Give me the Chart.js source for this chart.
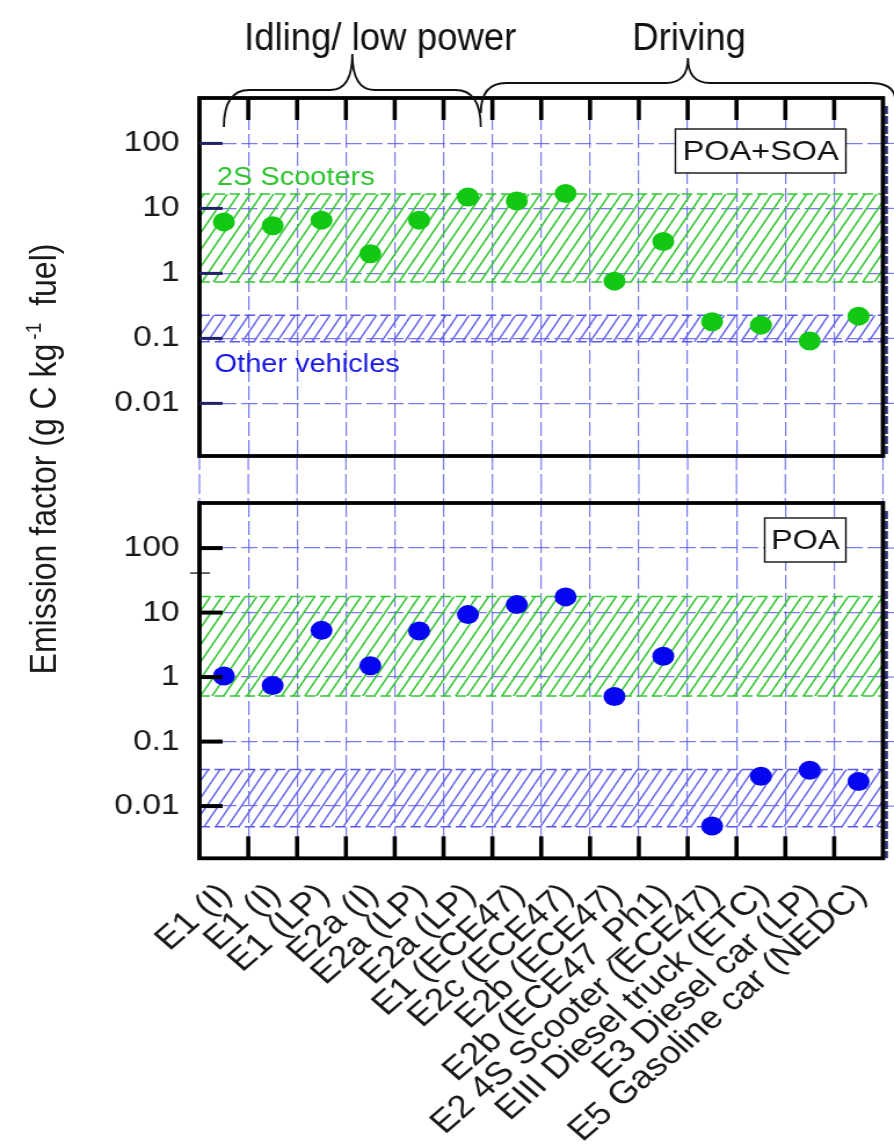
<!DOCTYPE html>
<html>
<head>
<meta charset="utf-8">
<script src="https://cdn.jsdelivr.net/npm/chart.js@4.4.1/dist/chart.umd.min.js"></script>
<style>
  html, body { margin: 0; padding: 0; background: #fff; overflow: hidden; }
  #page { position: absolute; left: 0; top: 0; width: 771px; height: 1146px; transform: scaleX(1.1595); transform-origin: 0 0; }
  #page canvas { position: absolute; left: 0; }
  #yTitle {
    position: absolute; left: -211px; top: 439px; width: 500px; height: 40px; line-height: 40px;
    text-align: center; white-space: nowrap; color: #1a1a1a;
    font: 32px "Liberation Sans", Arial, sans-serif; transform: rotate(-90deg);
  }
  #yTitle sup { font-size: 19px; position: relative; top: -13px; vertical-align: baseline; margin: 0 8px 0 4px; }
</style>
</head>
<body>
<div id="page">
  <canvas id="topChart" width="771" height="480" style="top:0"></canvas>
  <canvas id="bottomChart" width="771" height="666" style="top:480px"></canvas>
  <div id="yTitle">Emission factor (g C kg<sup>-1</sup> fuel)</div>
</div>
<script>
// test vehicles / cycles
const vehicles = [
  'E1 (I)', 'E1 (I)', 'E1 (LP)', 'E2a (I)', 'E2a (LP)', 'E2a (LP)', 'E1 (ECE47)',
  'E2c (ECE47)', 'E2b (ECE47)', 'E2b (ECE47_Ph1)', 'E2 4S Scooter (ECE47)',
  'EIII Diesel truck (ETC)', 'E3 Diesel car (LP)', 'E5 Gasoline car (NEDC)'
];

// emission factors, g C per kg fuel
const poaSoa = [6.2, 5.4, 6.6, 2.0, 6.6, 15, 13, 17, 0.76, 3.1, 0.18, 0.16, 0.091, 0.22];
const poa = [1.04, 0.74, 5.3, 1.5, 5.2, 9.3, 13.3, 17.5, 0.50, 2.1, 0.0049, 0.029, 0.036, 0.024];

// literature ranges [low, high]
const scooterRangeTop = [0.74, 16.6];
const otherRangeTop = [0.089, 0.228];
const scooterRangeBottom = [0.51, 17.7];
const otherRangeBottom = [0.0048, 0.037];

const decadeTicks = [0.01, 0.1, 1, 10, 100];
const yRange = [0.00155, 500];

const groups = [
  { label: 'Idling/ low power', from: 0, to: 5.5 },
  { label: 'Driving', from: 5.5, to: 14 }
];

Chart.defaults.font.family = '"Liberation Sans", Arial, sans-serif';
Chart.defaults.color = '#1a1a1a';

const FONT = '"Liberation Sans", Arial, sans-serif';
const gridColor = 'rgba(90, 90, 235, 0.8)';
const gridDash = [14, 4];
const green = '#35c635';
const blue = '#5a5ae6';

function hatch(color, width) {
  const p = 10, h = 17;
  const c = document.createElement('canvas');
  c.width = p;
  c.height = h;
  const g = c.getContext('2d');
  g.strokeStyle = color;
  g.lineWidth = width;
  for (const dx of [-p, 0, p]) {
    g.beginPath();
    g.moveTo(dx - p, 2 * h);
    g.lineTo(dx + 2 * p, -h);
    g.stroke();
  }
  return g.createPattern(c, 'repeat');
}

// two edge lines, the upper one filled down to the lower one
function band(range, color, pattern) {
  const xs = [-0.5, vehicles.length - 0.5];
  const edge = {
    type: 'line', xAxisID: 'xb', borderColor: color, borderWidth: 1.5,
    borderDash: [9, 4], pointRadius: 0, pointHoverRadius: 0, order: 2
  };
  return [
    { ...edge, data: xs.map(x => ({ x, y: range[1] })), fill: '+1', backgroundColor: pattern },
    { ...edge, data: xs.map(x => ({ x, y: range[0] })), fill: false }
  ];
}

function line(ctx, x0, y0, x1, y1) {
  ctx.beginPath();
  ctx.moveTo(x0, y0);
  ctx.lineTo(x1, y1);
  ctx.stroke();
}

function boxedLabel(ctx, text, cx, cy, w, h) {
  ctx.fillStyle = '#fff';
  ctx.fillRect(cx - w / 2, cy - h / 2, w, h);
  ctx.strokeStyle = '#111';
  ctx.lineWidth = 1.4;
  ctx.strokeRect(cx - w / 2, cy - h / 2, w, h);
  ctx.fillStyle = '#111';
  ctx.font = '28px ' + FONT;
  ctx.textAlign = 'center';
  ctx.textBaseline = 'middle';
  ctx.fillText(text, cx, cy + 1);
}

function brace(ctx, x0, y0, x1, y1, yh, tip, yTip) {
  const r = 22, q = 19;
  ctx.beginPath();
  ctx.moveTo(x0, y0);
  ctx.quadraticCurveTo(x0, yh, x0 + r, yh);
  ctx.lineTo(tip - q, yh);
  ctx.quadraticCurveTo(tip, yh, tip, yTip);
  ctx.quadraticCurveTo(tip, yh, tip + q, yh);
  ctx.lineTo(x1 - r, yh);
  ctx.quadraticCurveTo(x1, yh, x1, y1);
  ctx.stroke();
}

function panelPlugin(cfg) {
  return {
    id: 'panelFrame',
    afterDraw(chart) {
      const { ctx, chartArea: a, scales } = chart;
      const xb = scales.xb, y = scales.y;
      const n = vehicles.length;
      ctx.save();

      // grid continuing outside the frame
      ctx.strokeStyle = gridColor;
      ctx.lineWidth = 1.2;
      ctx.setLineDash(gridDash);
      decadeTicks.forEach(v => {
        const py = y.getPixelForValue(v);
        line(ctx, a.right, py, chart.width, py);
      });
      for (let i = 0; i <= n; i++) {
        const px = xb.getPixelForValue(i - 0.5);
        if (cfg.top) line(ctx, px, a.bottom, px, chart.height);
        else line(ctx, px, 0, px, a.top);
      }
      ctx.setLineDash([]);

      // navy strip just right of the frame
      ctx.strokeStyle = '#2b2b7a';
      ctx.lineWidth = 2.5;
      ctx.setLineDash([8, 2]);
      line(ctx, a.right + 3, a.top + 8, a.right + 3, a.bottom);
      ctx.setLineDash([]);

      // frame
      ctx.strokeStyle = '#000';
      ctx.lineWidth = 3.8;
      ctx.strokeRect(a.left, a.top, a.right - a.left, a.bottom - a.top);

      // inward ticks
      ctx.strokeStyle = cfg.top ? '#22226a' : '#000';
      ctx.lineWidth = cfg.top ? 3 : 4;
      decadeTicks.forEach(v => {
        const py = y.getPixelForValue(v);
        line(ctx, a.left, py, a.left + 20, py);
      });
      ctx.strokeStyle = '#000';
      ctx.lineWidth = 3.6;
      for (let i = 1; i < n; i++) {
        const px = xb.getPixelForValue(i - 0.5);
        if (cfg.top) line(ctx, px, a.top, px, a.top + 22);
        else line(ctx, px, a.bottom, px, a.bottom - 22);
      }
      if (cfg.stray) {
        ctx.lineWidth = 1.2;
        const py = y.getPixelForValue(cfg.stray);
        line(ctx, a.left - 8, py, a.left + 9, py);
      }

      // range captions
      ctx.font = '25px ' + FONT;
      ctx.textAlign = 'left';
      ctx.textBaseline = 'alphabetic';
      if (cfg.top) {
        ctx.fillStyle = '#2fc42f';
        ctx.fillText('2S Scooters', a.left + 15, y.getPixelForValue(scooterRangeTop[1]) - 9);
        ctx.fillStyle = '#1515e0';
        ctx.fillText('Other vehicles', a.left + 13, y.getPixelForValue(otherRangeTop[0]) + 30);
      }

      boxedLabel(ctx, cfg.box, a.right - cfg.boxW / 2 - 32, a.top + cfg.boxY, cfg.boxW, 44);

      if (cfg.top) {
        // condition groups above the panel
        ctx.strokeStyle = '#111';
        ctx.lineWidth = 1.8;
        const g0 = groups[0], g1 = groups[1];
        const b0 = xb.getPixelForValue(g0.from), b1 = xb.getPixelForValue(g0.to) - 10;
        const tip0 = (b0 + b1) / 2;
        brace(ctx, b0, 127, b1, 127, 90, tip0, 54);
        const c0 = b1, c1 = chart.width + 1;
        const tip1 = (c0 + c1) / 2;
        brace(ctx, c0, 113, c1, 100, 83, tip1, 58);

        ctx.fillStyle = '#111';
        ctx.font = '38px ' + FONT;
        ctx.textAlign = 'center';
        [[g0.label, tip0 + 24], [g1.label, tip1 + 1]].forEach(([t, cx]) => {
          ctx.save();
          ctx.translate(cx, 40);
          ctx.scale(0.83, 1);
          ctx.fillText(t, 0, 0);
          ctx.restore();
        });
      }
      ctx.restore();
    }
  };
}

function buildPanel(canvasId, values, dotColor, scooterRange, otherRange, cfg) {
  const datasets = [
    ...band(scooterRange, green, hatch(green, 1.6)),
    ...band(otherRange, blue, hatch('#6262ea', 1.4)),
    {
      type: 'line', data: values, xAxisID: 'x', showLine: false,
      pointRadius: 9.5, pointHoverRadius: 9.5, pointBorderWidth: 0,
      pointBackgroundColor: dotColor, borderColor: dotColor, order: 0
    }
  ];

  const xTicks = cfg.top
    ? { display: false }
    : { autoSkip: false, minRotation: 45, maxRotation: 45, padding: 18, labelOffset: 2,
        font: { size: 32 }, color: '#1a1a1a' };

  return new Chart(document.getElementById(canvasId), {
    type: 'line',
    data: { labels: vehicles, datasets },
    options: {
      responsive: false,
      animation: false,
      events: [],
      layout: { padding: cfg.top
        ? { top: 98, bottom: 24, left: 0, right: 8.5 }
        : { top: 23, bottom: 0, left: 0, right: 8.5 } },
      plugins: { legend: { display: false }, tooltip: { enabled: false } },
      scales: {
        x: {
          type: 'category', offset: true,
          grid: { offset: true, color: gridColor, lineWidth: 1.2, drawTicks: false },
          border: { display: false, dash: gridDash },
          ticks: xTicks,
          afterFit: s => {
            s.height = cfg.top ? 0 : 287.7;
            s.paddingLeft = 0;
            s.paddingRight = 0;
          }
        },
        xb: { type: 'linear', display: false, min: -0.5, max: vehicles.length - 0.5 },
        y: {
          type: 'logarithmic', min: yRange[0], max: yRange[1],
          afterBuildTicks: s => { s.ticks = decadeTicks.map(v => ({ value: v })); },
          afterFit: s => {
            s.width = 172;
            s.paddingTop = 0;
            s.paddingBottom = 0;
          },
          grid: { color: gridColor, lineWidth: 1.2, drawTicks: false },
          border: { display: false, dash: gridDash },
          ticks: { padding: 17, font: { size: 29 }, color: '#1a1a1a', callback: v => String(v) }
        }
      }
    },
    plugins: [panelPlugin(cfg)]
  });
}

buildPanel('topChart', poaSoa, '#12c812', scooterRangeTop, otherRangeTop,
  { top: true, box: 'POA+SOA', boxW: 147, boxY: 53 });
buildPanel('bottomChart', poa, '#0505f0', scooterRangeBottom, otherRangeBottom,
  { top: false, box: 'POA', boxW: 70, boxY: 37, stray: 41 });
</script>
</body>
</html>
